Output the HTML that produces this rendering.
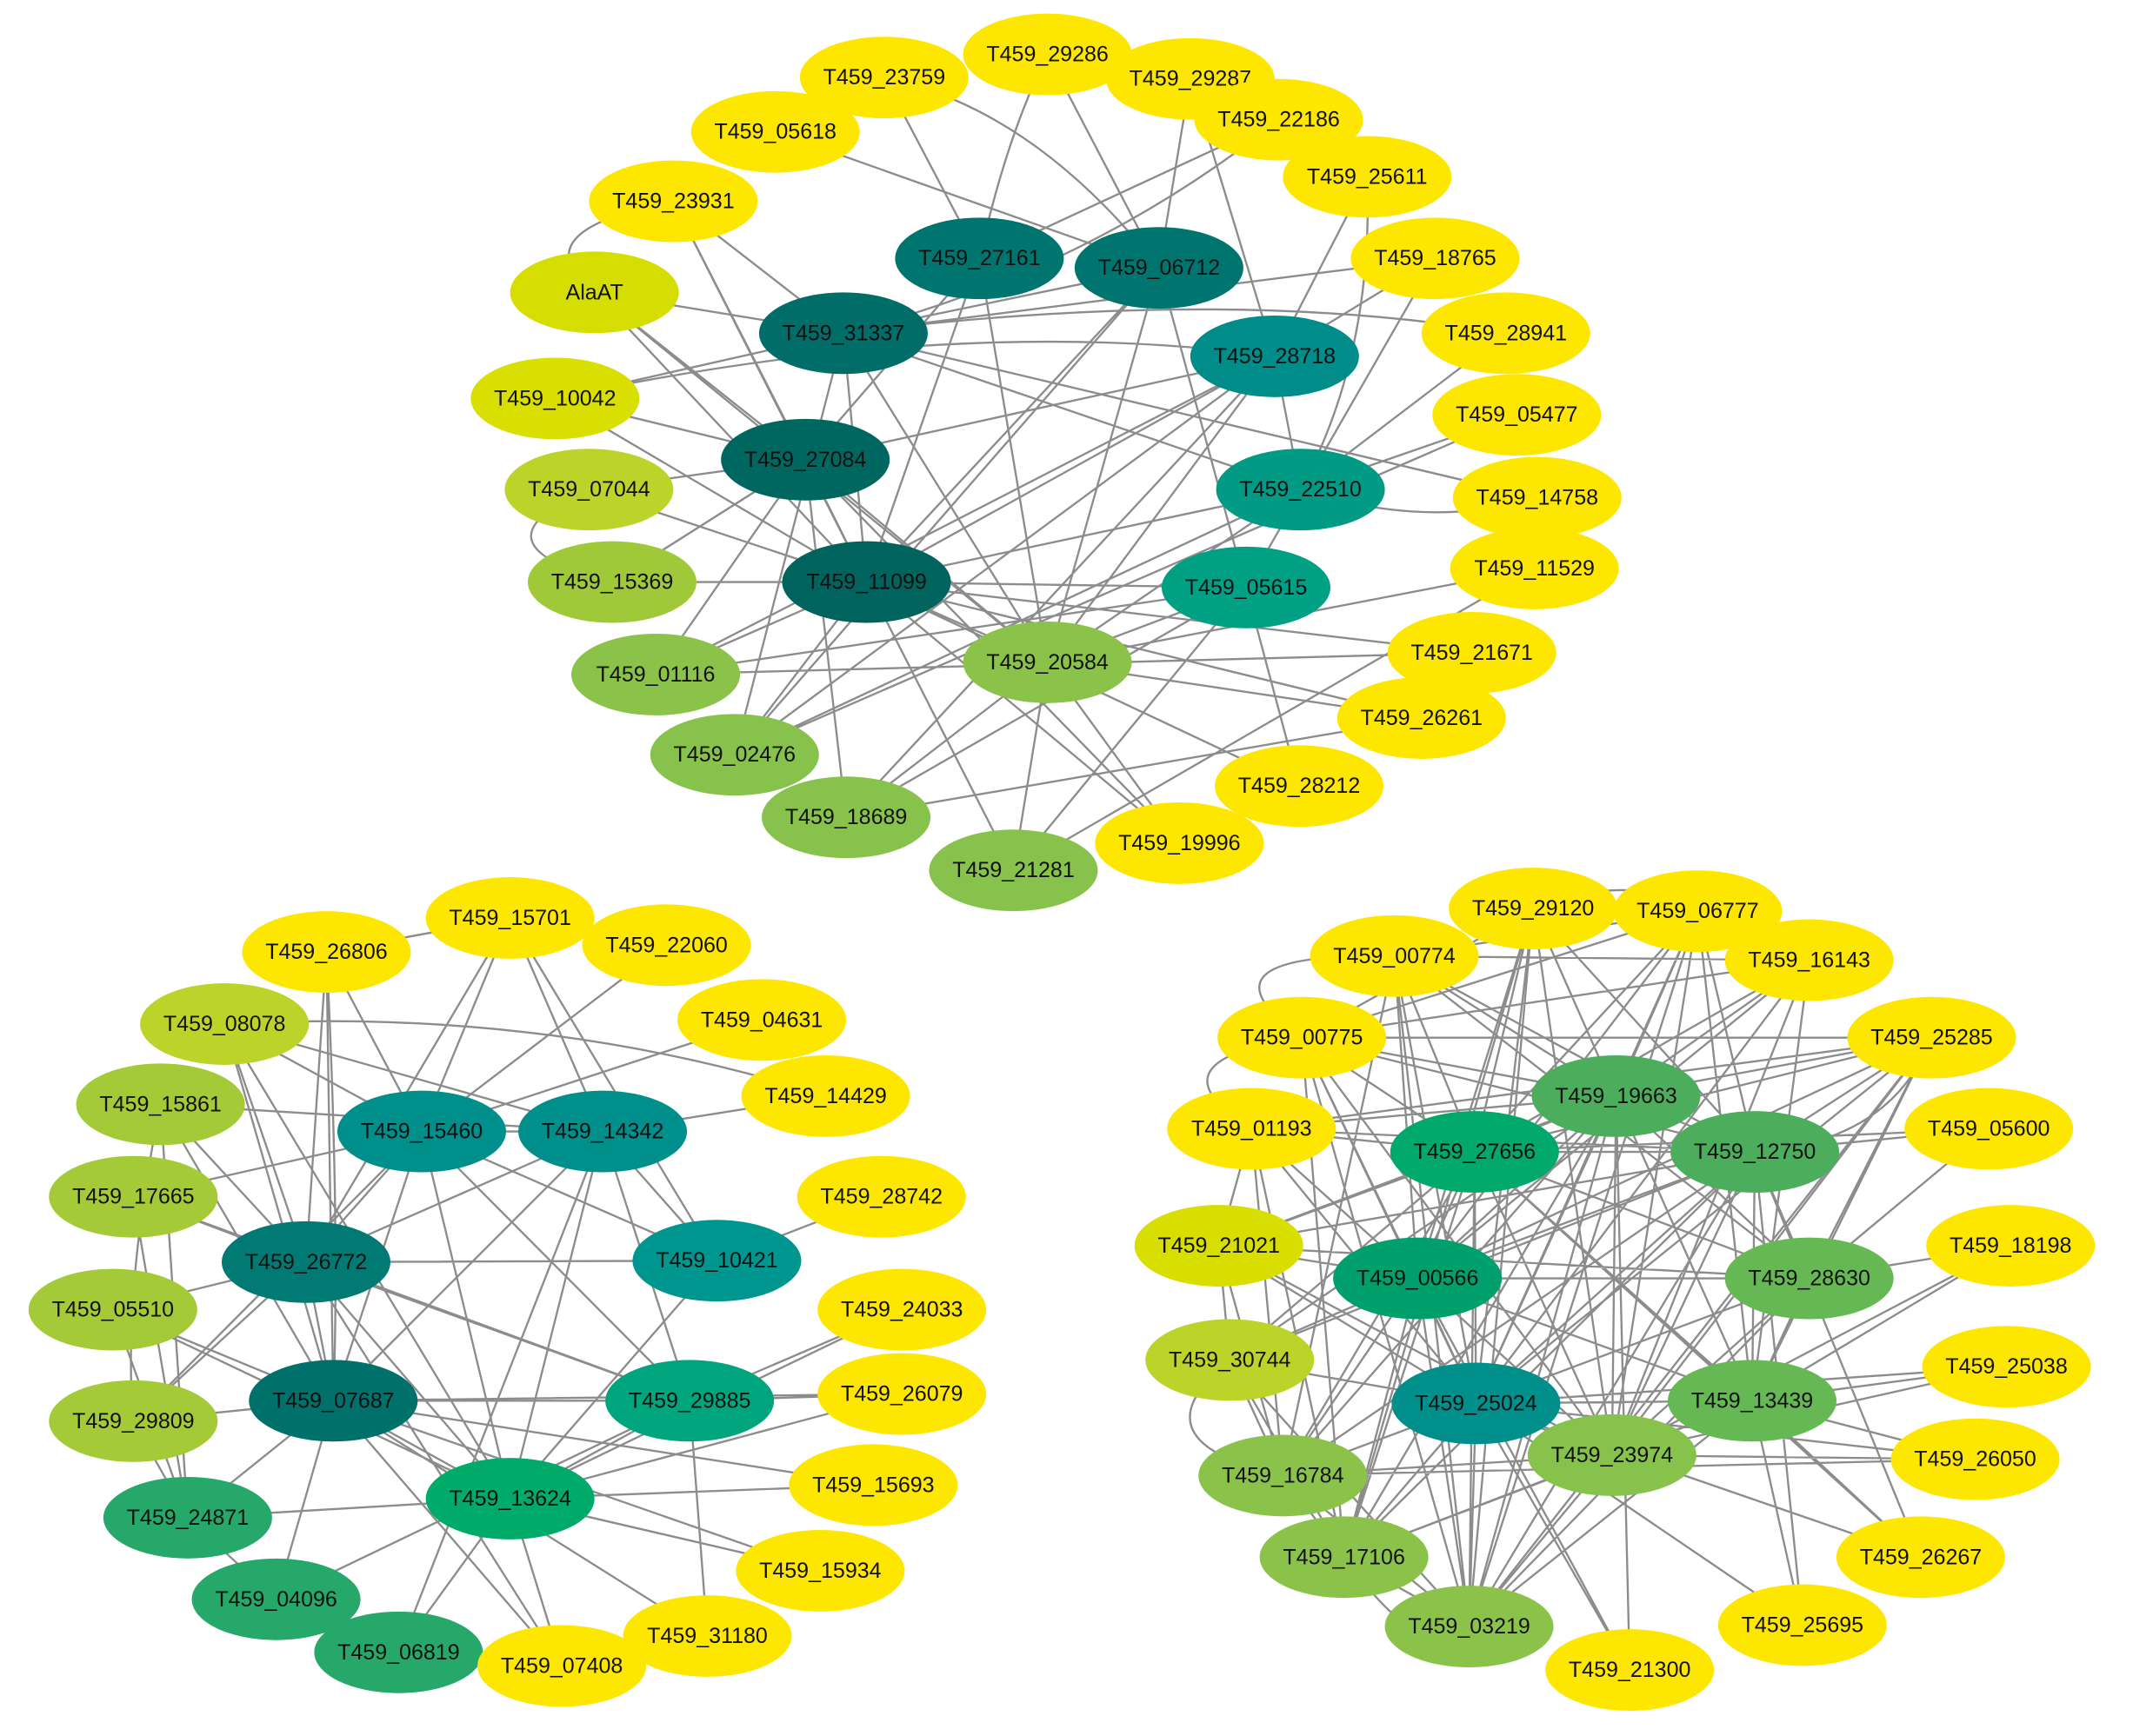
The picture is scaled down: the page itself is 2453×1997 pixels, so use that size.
<!DOCTYPE html>
<html><head><meta charset="utf-8"><style>
html,body{margin:0;padding:0;background:#fff;}
svg{display:block;}
text{font-family:"Liberation Sans",Arial,sans-serif;font-size:16px;fill:#111;text-anchor:middle;dominant-baseline:central;}
</style></head><body>
<svg width="2453" height="1997" viewBox="0 0 1568 1276.5" xmlns="http://www.w3.org/2000/svg">
<g fill="none" stroke="#8c8c8c" stroke-width="1.5">
<!-- cluster 1 edges -->
<path d="M650 57L720 190M650 57Q760 80 852 197M770 40L852 197M770 40Q740 100 720 190M875 58L937 262M875 58L852 197M570 97L852 197M940 88L720 190M940 88Q800 200 620 245M1005 130L937 262M1005 130Q1010 260 956 360M1055 190L937 262M1055 190L916 432M495 148L620 245M495 148L637 428M495 148L592 338M495 148Q380 170 437 215M437 215L620 245M437 215L637 428M437 215L592 338M437 215L770 487M408 293L620 245M408 293L637 428M408 293L592 338M408 293Q700 230 937 262M433 360L637 428M433 360L592 338M433 360Q340 400 450 428M450 428L592 338M450 428L637 428M620 245L637 428M620 245L770 487M620 245L956 360M620 245L1130 366M620 245Q900 210 1107 245M620 245L540 555M592 338L637 428M592 338L770 487M592 338L937 262M592 338L482 496M592 338L622 601M637 428L770 487M637 428L1082 480M637 428L1045 528M637 428L955 578M637 428L867 620M637 428L916 432M637 428L956 360M637 428L937 262M637 428L745 640M637 428L540 555M637 428L482 496M720 190L637 428M720 190L770 487M852 197L770 487M852 197L540 555M852 197L637 428M852 197L916 432M937 262L770 487M937 262L540 555M937 262L482 496M937 262L622 601M937 262L956 360M956 360L770 487M956 360L540 555M956 360L1115 305M956 360L1107 245M956 360Q1050 390 1130 366M916 432L770 487M916 432L622 601M916 432L955 578M916 432L745 640M770 487L745 640M770 487L867 620M770 487L1045 528M770 487L622 601M770 487L1128 418M482 496L916 432M540 555L956 360M622 601L1045 528M745 640L1128 418M867 620L592 338M720 190L592 338M852 197L620 245M620 245L1055 190M482 496L1082 480M540 555L1115 305"/>
<!-- cluster 2 edges -->
<path d="M375 675L310 832M375 675L443 832M375 675L527 927M375 675L225 928M375 675L240 700M490 695L310 832M240 700L225 928M240 700L245 1030M240 700L310 832M165 753L310 832M165 753L443 832M165 753L225 928M165 753L245 1030M165 753L375 1102M560 750L310 832M607 806L443 832M648 880L527 927M118 812L443 832M118 812L225 928M118 812L245 1030M118 812L138 1116M98 880L310 832M98 880L225 928M98 880L138 1116M98 880L507 1030M83 963L225 928M83 963L245 1030M83 963L375 1102M98 1045L245 1030M98 1045L225 928M98 1045L310 832M310 832L443 832M310 832L527 927M310 832L225 928M310 832L245 1030M310 832L507 1030M310 832L375 1102M443 832L527 927M443 832L225 928M443 832L245 1030M443 832L507 1030M443 832L375 1102M443 832L293 1215M527 927L225 928M527 927L375 1102M225 928L245 1030M225 928L375 1102M225 928L507 1030M225 928L413 1225M245 1030L507 1030M245 1030L375 1102M245 1030L642 1092M245 1030L663 1025M245 1030L603 1155M245 1030L520 1203M245 1030L413 1225M245 1030L138 1116M245 1030L203 1176M507 1030L375 1102M507 1030L663 963M507 1030L663 1025M507 1030L203 1176M507 1030L520 1203M375 1102L663 963M375 1102L663 1025M375 1102L642 1092M375 1102L603 1155M375 1102L293 1215M375 1102L413 1225M375 1102L138 1116M138 1116L203 1176M203 1176L293 1215M293 1215L413 1225M98 1045L138 1116M83 963L138 1116M165 753Q400 740 607 806M240 700Q250 900 245 1030M118 812Q90 950 98 1045"/>
<!-- cluster 3 edges -->
<path d="M1127 668L1188 806M1127 668L1084 847M1127 668L1042 940M1127 668L1085 1032M1127 668L1185 1070M1127 668L1080 1196M1127 668L1290 847M1127 668L957 763M1127 668L988 1145M1248 670L1188 806M1248 670L1084 847M1248 670L1290 847M1248 670L1042 940M1248 670L1085 1032M1248 670L1185 1070M1248 670L1288 1030M1248 670L1080 1196M1248 670L1025 703M1248 670L957 763M1025 703L1188 806M1025 703L1084 847M1025 703L1290 847M1025 703L1042 940M1025 703L1085 1032M1025 703L943 1085M1025 703L1080 1196M1025 703L1330 940M1330 706L1188 806M1330 706L1084 847M1330 706L1042 940M1330 706L1085 1032M1330 706L1185 1070M1330 706L957 763M1330 706L1025 703M1330 706L1288 1030M957 763L1084 847M957 763L1042 940M957 763L1085 1032M957 763L1188 806M957 763L1290 847M957 763L988 1145M957 763L1080 1196M957 763L1185 1070M1420 763L1188 806M1420 763L1084 847M1420 763L1290 847M1420 763L1042 940M1420 763L1085 1032M1420 763L1185 1070M1420 763L957 763M1420 763L920 830M1420 763L1288 1030M1420 763L1080 1196M1420 763L1330 940M920 830L1084 847M920 830L1042 940M920 830L1085 1032M920 830L1188 806M920 830L1290 847M920 830L943 1085M920 830L988 1145M920 830L896 916M1462 830L1290 847M1462 830L1084 847M1462 830L1330 940M896 916L1084 847M896 916L1042 940M896 916L1085 1032M896 916L1188 806M896 916L1290 847M896 916L904 1000M896 916L943 1085M896 916L1185 1070M896 916L1330 940M1478 916L1330 940M1478 916L1288 1030M1478 916L1185 1070M904 1000L1084 847M904 1000L1042 940M904 1000L1085 1032M904 1000L1290 847M904 1000L943 1085M904 1000L988 1145M904 1000L1080 1196M904 1000L1188 806M1475 1005L1288 1030M1475 1005L1085 1032M1475 1005L1185 1070M1452 1073L1288 1030M1452 1073L1085 1032M1452 1073L1185 1070M1452 1073L943 1085M1412 1145L1288 1030M1412 1145L1085 1032M1412 1145L1290 847M1412 1145L1084 847M1325 1195L1085 1032M1325 1195L1290 847M1325 1195L1288 1030M1198 1228L1085 1032M1198 1228L1188 806M1198 1228L1042 940M1188 806L1084 847M1188 806L1290 847M1188 806L1042 940M1188 806L1085 1032M1188 806L1185 1070M1188 806L1288 1030M1188 806L1330 940M1188 806L1080 1196M1188 806L988 1145M1188 806L943 1085M1084 847L1290 847M1084 847L1042 940M1084 847L1085 1032M1084 847L1185 1070M1084 847L1288 1030M1084 847L1330 940M1084 847L1080 1196M1084 847L988 1145M1084 847L943 1085M1290 847L1042 940M1290 847L1085 1032M1290 847L1185 1070M1290 847L1288 1030M1290 847L1330 940M1290 847L1080 1196M1290 847L988 1145M1290 847L943 1085M1042 940L1085 1032M1042 940L1185 1070M1042 940L1288 1030M1042 940L1330 940M1042 940L1080 1196M1042 940L988 1145M1042 940L943 1085M1330 940L1085 1032M1330 940L1185 1070M1330 940L1288 1030M1330 940L1080 1196M1085 1032L1185 1070M1085 1032L1288 1030M1085 1032L1080 1196M1085 1032L988 1145M1085 1032L943 1085M1288 1030L1185 1070M1288 1030L1080 1196M1288 1030L988 1145M1185 1070L1080 1196M1185 1070L988 1145M1185 1070L943 1085M943 1085L988 1145M943 1085L1080 1196M988 1145L1080 1196M957 763Q870 700 1025 703M920 830Q840 780 957 763M904 1000Q830 1060 943 1085M1420 763Q1390 840 1290 847M1127 668Q1200 640 1248 670M1080 1196Q1050 1230 988 1145"/>
</g>
<g>
<ellipse cx="770" cy="40" rx="62" ry="30" fill="#fde700"/><text x="770" y="40">T459_29286</text>
<ellipse cx="875" cy="58" rx="62" ry="30" fill="#fde700"/><text x="875" y="58">T459_29287</text>
<ellipse cx="650" cy="57" rx="62" ry="30" fill="#fde700"/><text x="650" y="57">T459_23759</text>
<ellipse cx="570" cy="97" rx="62" ry="30" fill="#fde700"/><text x="570" y="97">T459_05618</text>
<ellipse cx="940" cy="88" rx="62" ry="30" fill="#fde700"/><text x="940" y="88">T459_22186</text>
<ellipse cx="1005" cy="130" rx="62" ry="30" fill="#fde700"/><text x="1005" y="130">T459_25611</text>
<ellipse cx="495" cy="148" rx="62" ry="30" fill="#fde700"/><text x="495" y="148">T459_23931</text>
<ellipse cx="1055" cy="190" rx="62" ry="30" fill="#fde700"/><text x="1055" y="190">T459_18765</text>
<ellipse cx="437" cy="215" rx="62" ry="30" fill="#d6dd00"/><text x="437" y="215">AlaAT</text>
<ellipse cx="720" cy="190" rx="62" ry="30" fill="#00756f"/><text x="720" y="190">T459_27161</text>
<ellipse cx="852" cy="197" rx="62" ry="30" fill="#00756f"/><text x="852" y="197">T459_06712</text>
<ellipse cx="620" cy="245" rx="62" ry="30" fill="#006d68"/><text x="620" y="245">T459_31337</text>
<ellipse cx="937" cy="262" rx="62" ry="30" fill="#008c88"/><text x="937" y="262">T459_28718</text>
<ellipse cx="1107" cy="245" rx="62" ry="30" fill="#fde700"/><text x="1107" y="245">T459_28941</text>
<ellipse cx="408" cy="293" rx="62" ry="30" fill="#d9df00"/><text x="408" y="293">T459_10042</text>
<ellipse cx="1115" cy="305" rx="62" ry="30" fill="#fde700"/><text x="1115" y="305">T459_05477</text>
<ellipse cx="592" cy="338" rx="62" ry="30" fill="#006660"/><text x="592" y="338">T459_27084</text>
<ellipse cx="956" cy="360" rx="62" ry="30" fill="#009a85"/><text x="956" y="360">T459_22510</text>
<ellipse cx="433" cy="360" rx="62" ry="30" fill="#bcd42a"/><text x="433" y="360">T459_07044</text>
<ellipse cx="1130" cy="366" rx="62" ry="30" fill="#fde700"/><text x="1130" y="366">T459_14758</text>
<ellipse cx="450" cy="428" rx="62" ry="30" fill="#a0c93a"/><text x="450" y="428">T459_15369</text>
<ellipse cx="637" cy="428" rx="62" ry="30" fill="#00635d"/><text x="637" y="428">T459_11099</text>
<ellipse cx="916" cy="432" rx="62" ry="30" fill="#00a085"/><text x="916" y="432">T459_05615</text>
<ellipse cx="1128" cy="418" rx="62" ry="30" fill="#fde700"/><text x="1128" y="418">T459_11529</text>
<ellipse cx="482" cy="496" rx="62" ry="30" fill="#8bc34a"/><text x="482" y="496">T459_01116</text>
<ellipse cx="770" cy="487" rx="62" ry="30" fill="#8bc34a"/><text x="770" y="487">T459_20584</text>
<ellipse cx="1082" cy="480" rx="62" ry="30" fill="#fde700"/><text x="1082" y="480">T459_21671</text>
<ellipse cx="1045" cy="528" rx="62" ry="30" fill="#fde700"/><text x="1045" y="528">T459_26261</text>
<ellipse cx="540" cy="555" rx="62" ry="30" fill="#86c24c"/><text x="540" y="555">T459_02476</text>
<ellipse cx="955" cy="578" rx="62" ry="30" fill="#fde700"/><text x="955" y="578">T459_28212</text>
<ellipse cx="622" cy="601" rx="62" ry="30" fill="#86c24c"/><text x="622" y="601">T459_18689</text>
<ellipse cx="867" cy="620" rx="62" ry="30" fill="#fde700"/><text x="867" y="620">T459_19996</text>
<ellipse cx="745" cy="640" rx="62" ry="30" fill="#86c24c"/><text x="745" y="640">T459_21281</text>
<ellipse cx="375" cy="675" rx="62" ry="30" fill="#fde700"/><text x="375" y="675">T459_15701</text>
<ellipse cx="490" cy="695" rx="62" ry="30" fill="#fde700"/><text x="490" y="695">T459_22060</text>
<ellipse cx="240" cy="700" rx="62" ry="30" fill="#fde700"/><text x="240" y="700">T459_26806</text>
<ellipse cx="560" cy="750" rx="62" ry="30" fill="#fde700"/><text x="560" y="750">T459_04631</text>
<ellipse cx="165" cy="753" rx="62" ry="30" fill="#bcd42a"/><text x="165" y="753">T459_08078</text>
<ellipse cx="607" cy="806" rx="62" ry="30" fill="#fde700"/><text x="607" y="806">T459_14429</text>
<ellipse cx="118" cy="812" rx="62" ry="30" fill="#a5ca38"/><text x="118" y="812">T459_15861</text>
<ellipse cx="310" cy="832" rx="62" ry="30" fill="#008f8b"/><text x="310" y="832">T459_15460</text>
<ellipse cx="443" cy="832" rx="62" ry="30" fill="#008f8b"/><text x="443" y="832">T459_14342</text>
<ellipse cx="648" cy="880" rx="62" ry="30" fill="#fde700"/><text x="648" y="880">T459_28742</text>
<ellipse cx="98" cy="880" rx="62" ry="30" fill="#a5ca38"/><text x="98" y="880">T459_17665</text>
<ellipse cx="225" cy="928" rx="62" ry="30" fill="#007a73"/><text x="225" y="928">T459_26772</text>
<ellipse cx="527" cy="927" rx="62" ry="30" fill="#009690"/><text x="527" y="927">T459_10421</text>
<ellipse cx="83" cy="963" rx="62" ry="30" fill="#a5ca38"/><text x="83" y="963">T459_05510</text>
<ellipse cx="663" cy="963" rx="62" ry="30" fill="#fde700"/><text x="663" y="963">T459_24033</text>
<ellipse cx="245" cy="1030" rx="62" ry="30" fill="#00706b"/><text x="245" y="1030">T459_07687</text>
<ellipse cx="507" cy="1030" rx="62" ry="30" fill="#00a57e"/><text x="507" y="1030">T459_29885</text>
<ellipse cx="663" cy="1025" rx="62" ry="30" fill="#fde700"/><text x="663" y="1025">T459_26079</text>
<ellipse cx="98" cy="1045" rx="62" ry="30" fill="#a5ca38"/><text x="98" y="1045">T459_29809</text>
<ellipse cx="642" cy="1092" rx="62" ry="30" fill="#fde700"/><text x="642" y="1092">T459_15693</text>
<ellipse cx="375" cy="1102" rx="62" ry="30" fill="#00ab6a"/><text x="375" y="1102">T459_13624</text>
<ellipse cx="138" cy="1116" rx="62" ry="30" fill="#26a86a"/><text x="138" y="1116">T459_24871</text>
<ellipse cx="603" cy="1155" rx="62" ry="30" fill="#fde700"/><text x="603" y="1155">T459_15934</text>
<ellipse cx="203" cy="1176" rx="62" ry="30" fill="#26a86a"/><text x="203" y="1176">T459_04096</text>
<ellipse cx="520" cy="1203" rx="62" ry="30" fill="#fde700"/><text x="520" y="1203">T459_31180</text>
<ellipse cx="293" cy="1215" rx="62" ry="30" fill="#26a86a"/><text x="293" y="1215">T459_06819</text>
<ellipse cx="413" cy="1225" rx="62" ry="30" fill="#fde700"/><text x="413" y="1225">T459_07408</text>
<ellipse cx="1127" cy="668" rx="62" ry="30" fill="#fde700"/><text x="1127" y="668">T459_29120</text>
<ellipse cx="1248" cy="670" rx="62" ry="30" fill="#fde700"/><text x="1248" y="670">T459_06777</text>
<ellipse cx="1025" cy="703" rx="62" ry="30" fill="#fde700"/><text x="1025" y="703">T459_00774</text>
<ellipse cx="1330" cy="706" rx="62" ry="30" fill="#fde700"/><text x="1330" y="706">T459_16143</text>
<ellipse cx="957" cy="763" rx="62" ry="30" fill="#fde700"/><text x="957" y="763">T459_00775</text>
<ellipse cx="1420" cy="763" rx="62" ry="30" fill="#fde700"/><text x="1420" y="763">T459_25285</text>
<ellipse cx="1188" cy="806" rx="62" ry="30" fill="#4cae5c"/><text x="1188" y="806">T459_19663</text>
<ellipse cx="920" cy="830" rx="62" ry="30" fill="#fde700"/><text x="920" y="830">T459_01193</text>
<ellipse cx="1462" cy="830" rx="62" ry="30" fill="#fde700"/><text x="1462" y="830">T459_05600</text>
<ellipse cx="1084" cy="847" rx="62" ry="30" fill="#00a86b"/><text x="1084" y="847">T459_27656</text>
<ellipse cx="1290" cy="847" rx="62" ry="30" fill="#4cae5c"/><text x="1290" y="847">T459_12750</text>
<ellipse cx="896" cy="916" rx="62" ry="30" fill="#d8de00"/><text x="896" y="916">T459_21021</text>
<ellipse cx="1478" cy="916" rx="62" ry="30" fill="#fde700"/><text x="1478" y="916">T459_18198</text>
<ellipse cx="1042" cy="940" rx="62" ry="30" fill="#00a06c"/><text x="1042" y="940">T459_00566</text>
<ellipse cx="1330" cy="940" rx="62" ry="30" fill="#66b854"/><text x="1330" y="940">T459_28630</text>
<ellipse cx="904" cy="1000" rx="62" ry="30" fill="#bcd42a"/><text x="904" y="1000">T459_30744</text>
<ellipse cx="1475" cy="1005" rx="62" ry="30" fill="#fde700"/><text x="1475" y="1005">T459_25038</text>
<ellipse cx="1085" cy="1032" rx="62" ry="30" fill="#008f8b"/><text x="1085" y="1032">T459_25024</text>
<ellipse cx="1288" cy="1030" rx="62" ry="30" fill="#66b854"/><text x="1288" y="1030">T459_13439</text>
<ellipse cx="1185" cy="1070" rx="62" ry="30" fill="#86c24c"/><text x="1185" y="1070">T459_23974</text>
<ellipse cx="1452" cy="1073" rx="62" ry="30" fill="#fde700"/><text x="1452" y="1073">T459_26050</text>
<ellipse cx="943" cy="1085" rx="62" ry="30" fill="#8bc34a"/><text x="943" y="1085">T459_16784</text>
<ellipse cx="988" cy="1145" rx="62" ry="30" fill="#8bc34a"/><text x="988" y="1145">T459_17106</text>
<ellipse cx="1412" cy="1145" rx="62" ry="30" fill="#fde700"/><text x="1412" y="1145">T459_26267</text>
<ellipse cx="1080" cy="1196" rx="62" ry="30" fill="#8bc34a"/><text x="1080" y="1196">T459_03219</text>
<ellipse cx="1325" cy="1195" rx="62" ry="30" fill="#fde700"/><text x="1325" y="1195">T459_25695</text>
<ellipse cx="1198" cy="1228" rx="62" ry="30" fill="#fde700"/><text x="1198" y="1228">T459_21300</text>
</g>
</svg>
</body></html>
